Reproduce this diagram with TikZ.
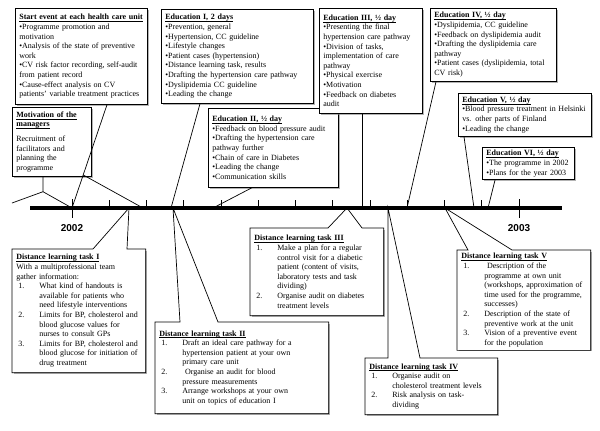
\documentclass[tikz,border=0pt]{standalone}
\usepackage{fontspec}
\setmainfont{Liberation Serif}
\newfontfamily\yearfont{Liberation Sans}
\usetikzlibrary{calc,shadows}

\newlength\nrw
\setlength\nrw{23pt}
\newcommand\nr[1]{\makebox[\nrw][l]{\hspace{2pt}#1}}
\newcommand\nrc{\hspace*{\nrw}}
\newcommand\hd[1]{\underline{\raisebox{0pt}[\height][0pt]{\textbf{#1}}}}

\begin{document}
\begin{tikzpicture}[x=1pt,y=-1pt,
	box/.style={draw, line width=0.7pt, fill=white, anchor=north west, align=left,
		inner xsep=4pt, inner ysep=3pt, font=\fontsize{8}{9.6}\selectfont,
		drop shadow={shadow xshift=1.2pt, shadow yshift=-1.2pt, fill=black!50, opacity=0.6}},
	callout/.style={box, draw=none},
	conn/.style={line width=0.7pt},
	tick/.style={line width=0.8pt},
	year/.style={font=\yearfont\fontsize{10}{12}\selectfont\bfseries}]
	\useasboundingbox (0,0) rectangle (600,431);
	%\draw[help lines] (0,0) grid (600,431);

	% points on the time line
	\coordinate (tl-a) at (30,208);
	\coordinate (tl-b) at (562,208);
	\coordinate (t2002) at (72,208);
	\coordinate (t2003) at (519,208);
	\coordinate (t-start) at (143,208);
	\coordinate (t-edu1) at (171,208);
	\coordinate (t-edu2) at (213,208);
	\coordinate (t-edu3) at (362,208);
	\coordinate (t-edu4) at (407,208);
	\coordinate (t-edu5) at (474,208);
	\coordinate (t-edu6) at (488,208);
	\coordinate (t-dlt1) at (129,208);
	\coordinate (t-dlt2) at (173,208);
	\coordinate (t-dlt3) at (347,208);
	\coordinate (t-dlt4) at (388,208);
	\coordinate (t-dlt5) at (445,208);

	% upper row
	\node[box, text width=124pt, minimum height=96pt] (start) at (15,8) {
		\hd{Start event at each health care unit}\\
		\textbullet Programme promotion and\\
		motivation\\
		\textbullet Analysis of the state of preventive\\
		work\\
		\textbullet CV risk factor recording, self-audit\\
		from patient record\\
		\textbullet Cause-effect analysis on CV\\
		patients' variable treatment practices};
	\node[box, text width=71pt, minimum height=69pt] (mot) at (12,107) {
		\hd{Motivation of the}\\
		\hd{managers}\\[5pt]
		Recruitment of\\
		facilitators and\\
		planning the\\
		programme};
	\node[box, text width=144pt, minimum height=94pt] (edu1) at (161,9) {
		\hd{Education I, 2 days}\\
		\textbullet Prevention, general\\
		\textbullet Hypertension, CC guideline\\
		\textbullet Lifestyle changes\\
		\textbullet Patient cases (hypertension)\\
		\textbullet Distance learning task, results\\
		\textbullet Drafting the hypertension care pathway\\
		\textbullet Dyslipidemia CC guideline\\
		\textbullet Leading the change};
	\node[box, text width=122pt, minimum height=79pt] (edu2) at (208,108) {
		\hd{Education II, ½ day}\\
		\textbullet Feedback on blood pressure audit\\
		\textbullet Drafting the hypertension care\\
		pathway further\\
		\textbullet Chain of care in Diabetes\\
		\textbullet Leading the change\\
		\textbullet Communication skills};
	\node[box, text width=95pt, minimum height=105pt] (edu3) at (319,8) {
		\hd{Education III, ½ day}\\
		\textbullet Presenting the final\\
		hypertension care pathway\\
		\textbullet Division of tasks,\\
		implementation of care\\
		pathway\\
		\textbullet Physical exercise\\
		\textbullet Motivation\\
		\textbullet Feedback on diabetes\\
		audit};
	\node[box, text width=118pt, minimum height=73pt] (edu4) at (430,8) {
		\hd{Education IV, ½ day}\\
		\textbullet Dyslipidemia, CC guideline\\
		\textbullet Feedback on dyslipidemia audit\\
		\textbullet Drafting the dyslipidemia care\\
		pathway\\
		\textbullet Patient cases (dyslipidemia, total\\
		CV risk)};
	\node[box, text width=125pt, minimum height=43pt] (edu5) at (458,93) {
		\hd{Education V, ½ day}\\
		\textbullet Blood pressure treatment in Helsinki\\
		vs. other parts of Finland\\
		\textbullet Leading the change};
	\node[box, text width=84pt, minimum height=31pt] (edu6) at (482,147) {
		\hd{Education VI, ½ day}\\
		\textbullet The programme in 2002\\
		\textbullet Plans for the year 2003};

	% lower row
	\node[callout, text width=125pt, minimum height=123pt] (dlt1) at (12,249) {
		\hd{Distance learning task I}\\
		With a multiprofessional team\\
		gather information:\\
		\nr{1.}What kind of handouts is\\
		\nrc available for patients who\\
		\nrc need lifestyle interventions\\
		\nr{2.}Limits for BP, cholesterol and\\
		\nrc blood glucose values for\\
		\nrc nurses to consult GPs\\
		\nr{3.}Limits for BP, cholesterol and\\
		\nrc blood glucose for initiation of\\
		\nrc drug treatment};
	\node[callout, text width=165pt, minimum height=91pt] (dlt2) at (155,322) {
		\hd{Distance learning task II}\\
		\nr{1.}Draft an ideal care pathway for a\\
		\nrc hypertension patient at your own\\
		\nrc primary care unit\\
		\nr{2.}\ Organise an audit for blood\\
		\nrc pressure measurements\\
		\nr{3.}Arrange workshops at your own\\
		\nrc unit on topics of education I};
	\node[callout, text width=125pt, minimum height=87pt] (dlt3) at (250,228) {
		\hd{Distance learning task III}\\
		\nr{1.}Make a plan for a regular\\
		\nrc control visit for a diabetic\\
		\nrc patient (content of visits,\\
		\nrc laboratory tests and task\\
		\nrc dividing)\\
		\nr{2.}Organise audit on diabetes\\
		\nrc treatment levels};
	\node[callout, text width=124pt, minimum height=56pt] (dlt4) at (365,358) {
		\hd{Distance learning task IV}\\
		\nr{1.}Organise audit on\\
		\nrc cholesterol treatment levels\\
		\nr{2.}Risk analysis on task-\\
		\nrc dividing};
	\node[callout, text width=125pt, minimum height=98pt] (dlt5) at (457,250) {
		\hd{Distance learning task V}\\
		\nr{1.}\ Description of the\\
		\nrc programme at own unit\\
		\nrc (workshops, approximation of\\
		\nrc time used for the programme,\\
		\nrc successes)\\
		\nr{2.}Description of the state of\\
		\nrc preventive work at the unit\\
		\nr{3.}Vision of a preventive event\\
		\nrc for the population};

	% connectors of the upper row
	\coordinate (s0) at ($(start.south west)+(92,0)$);
	\draw[conn] (s0) -- (t2002);
	\draw[conn] ($(s0)!0.68!(t2002)$) -- (t-start);
	\coordinate (m0) at ($(mot.south west)+(31,15)$);
	\coordinate (mL) at (12,203);
	\draw[conn] (mot.south west -| m0) -- (m0) -- (mL);
	\draw[conn] (m0) -- (t2002);
	\draw[conn] ($(edu1.south west)+(39,0)$) -- (t-edu1);
	\draw[conn] ($(edu2.south west)+(44,0)$) -- (t-edu2);
	\draw[conn] (t-edu3 |- edu3.south) -- (t-edu3);
	\draw[conn] ($(edu4.south west)+(6,0)$) -- (t-edu4);
	\draw[conn] ($(edu5.south west)+(6,0)$) -- (t-edu5);
	\draw[conn] ($(edu6.south west)+(13,0)$) -- (t-edu6);

	% callouts of the lower row
	\draw[conn] (dlt1.north west) -- ++(81,0) -- (t-dlt1) -- ($(dlt1.north west)+(115,0)$)
		-- (dlt1.north east) |- (dlt1.south west) -- cycle;
	\draw[conn] (dlt2.north west) -- ++(25,0) -- (t-dlt2) -- ($(dlt2.north west)+(63,0)$)
		-- (dlt2.north east) |- (dlt2.south west) -- cycle;
	\draw[conn] (dlt3.north west) -- ++(78,0) -- (t-dlt3) -- ($(dlt3.north west)+(112,0)$)
		-- (dlt3.north east) |- (dlt3.south west) -- cycle;
	\draw[conn] (dlt4.north west) -- ++(23,0) -- (t-dlt4) -- ($(dlt4.north west)+(55,0)$)
		-- (dlt4.north east) |- (dlt4.south west) -- cycle;
	\draw[conn] (dlt5.north west) -- ++(11,0) -- (t-dlt5) -- ($(dlt5.north west)+(55,0)$)
		-- (dlt5.north east) |- (dlt5.south west) -- cycle;

	% time line
	\draw[line width=4pt] (tl-a) -- (tl-b);
	\foreach \i in {1,...,11}
		\draw[tick] (72+37.25*\i,200) -- (72+37.25*\i,208);
	\draw[tick] (72,199) -- (72,218);
	\draw[tick] (519,199) -- (519,218);
	\node[year] (y2002) at (72,228) {2002};
	\node[year] (y2003) at (519,228) {2003};
\end{tikzpicture}
\end{document}
